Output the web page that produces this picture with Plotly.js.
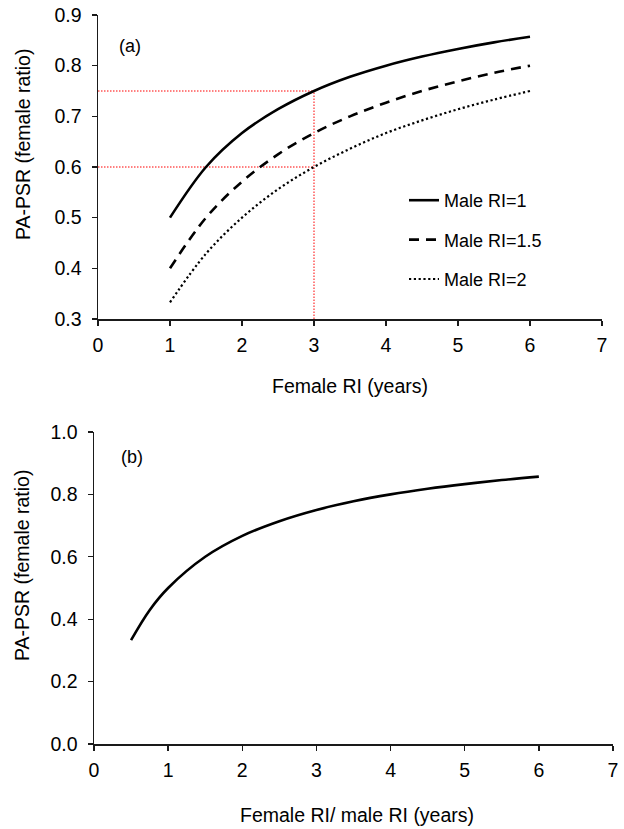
<!DOCTYPE html>
<html>
<head>
<meta charset="utf-8">
<script src="https://cdn.plot.ly/plotly-3.0.1.min.js"></script>
<style>html,body{margin:0;padding:0;background:#fff;}#chart{width:624px;height:829px;}</style>
</head>
<body>
<div id="chart"></div>
<script>
// ---- Data ----
// Panel (a): female RI (years) vs PA-PSR for three male RI values
const femaleRI = [1, 1.5, 2, 2.5, 3, 3.5, 4, 4.5, 5, 5.5, 6];
const psrMale1 = [0.500, 0.600, 0.667, 0.714, 0.750, 0.778, 0.800, 0.818, 0.833, 0.846, 0.857];
const psrMale15 = [0.400, 0.500, 0.571, 0.625, 0.667, 0.700, 0.727, 0.750, 0.769, 0.786, 0.800];
const psrMale2 = [0.333, 0.429, 0.500, 0.556, 0.600, 0.636, 0.667, 0.692, 0.714, 0.733, 0.750];
const seriesNames = ["Male RI=1", "Male RI=1.5", "Male RI=2"];
// Red reference guides in panel (a)
const refX = 3;
const refY = [0.75, 0.60];
// Panel (b): female RI / male RI vs PA-PSR
const ratioRI = [0.5, 0.75, 1, 1.5, 2, 2.5, 3, 3.5, 4, 4.5, 5, 5.5, 6];
const psrRatio = [0.333, 0.429, 0.500, 0.600, 0.667, 0.714, 0.750, 0.778, 0.800, 0.818, 0.833, 0.846, 0.857];
const panelLabels = ["(a)", "(b)"];
const xTitleA = "Female RI (years)";
const xTitleB = "Female RI/ male RI (years)";
const yTitle = "PA-PSR (female ratio)";

// ---- Layout helpers (pixel -> paper) ----
const W = 624, H = 829;
const px = x => x / W;
const py = y => 1 - y / H;
const FONT = "Liberation Sans, Arial, sans-serif";
const AX = "#1a1a1a";

const traces = [
  {x: femaleRI, y: psrMale1, name: seriesNames[0], mode: "lines", xaxis: "x", yaxis: "y",
   line: {color: "#000", width: 2.6, shape: "spline", smoothing: 1}, legendgroup: "g1"},
  {x: femaleRI, y: psrMale15, name: seriesNames[1], mode: "lines", xaxis: "x", yaxis: "y",
   line: {color: "#000", width: 2.6, dash: "10px,7px", shape: "spline", smoothing: 1}, legendgroup: "g2"},
  {x: femaleRI, y: psrMale2, name: seriesNames[2], mode: "lines", xaxis: "x", yaxis: "y",
   line: {color: "#000", width: 2.2, dash: "2.2px,2.6px", shape: "spline", smoothing: 1}, legendgroup: "g3"},
  {x: ratioRI, y: psrRatio, name: "ratio", mode: "lines", xaxis: "x2", yaxis: "y2", showlegend: false,
   line: {color: "#000", width: 2.6, shape: "spline", smoothing: 1}}
];

const guideLine = {color: "#ff0000", width: 1, dash: "1.5px,1.5px"};
const shapes = [];
refY.forEach(v => {
  shapes.push({type: "line", xref: "x", yref: "y", x0: 0, x1: refX, y0: v, y1: v, line: guideLine, layer: "below"});
});
shapes.push({type: "line", xref: "x", yref: "y", x0: refX, x1: refX, y0: 0.3, y1: Math.max(...refY), line: guideLine, layer: "below"});

const axisCommon = {
  showline: true, linecolor: AX, linewidth: 1.5, mirror: false,
  ticks: "outside", ticklen: 5, tickwidth: 1.3, tickcolor: AX,
  showgrid: false, zeroline: false, fixedrange: true,
  tickfont: {family: FONT, size: 19.5, color: "#000"}
};

function ann(text, x, y, size, angle) {
  return {text: text, xref: "paper", yref: "paper", x: px(x), y: py(y), xanchor: "center", yanchor: "middle",
          textangle: angle || 0, showarrow: false, font: {family: FONT, size: size, color: "#000"}};
}

const layout = {
  width: W, height: H,
  margin: {l: 0, r: 0, t: 0, b: 0},
  paper_bgcolor: "#fff", plot_bgcolor: "#fff",
  font: {family: FONT, color: "#000"},
  showlegend: true,
  legend: {
    x: px(404), y: py(182), xanchor: "left", yanchor: "top",
    font: {family: FONT, size: 18, color: "#000"},
    tracegroupgap: 13, bgcolor: "rgba(0,0,0,0)", borderwidth: 0
  },
  xaxis: Object.assign({}, axisCommon, {domain: [px(98), px(602)], range: [0, 7], dtick: 1, anchor: "y", ticklabelstandoff: 3}),
  yaxis: Object.assign({}, axisCommon, {domain: [py(319), py(15)], range: [0.3, 0.9], dtick: 0.1, tickformat: ".1f", anchor: "x", ticklabelstandoff: 6}),
  xaxis2: Object.assign({}, axisCommon, {domain: [px(94), px(613)], range: [0, 7], dtick: 1, anchor: "y2", ticklabelstandoff: 3}),
  yaxis2: Object.assign({}, axisCommon, {domain: [py(744), py(432)], range: [0, 1], dtick: 0.2, tickformat: ".1f", anchor: "x2", ticklabelstandoff: 6}),
  shapes: shapes,
  annotations: [
    ann(panelLabels[0], 130, 46, 18),
    ann(panelLabels[1], 132, 457, 18),
    ann(xTitleA, 350, 386, 19.5),
    ann(xTitleB, 357, 815, 19.5),
    ann(yTitle, 23, 145, 19.5, -90),
    ann(yTitle, 22, 566, 19.5, -90)
  ]
};

Plotly.newPlot("chart", traces, layout, {displayModeBar: false, staticPlot: true});
</script>
</body>
</html>
